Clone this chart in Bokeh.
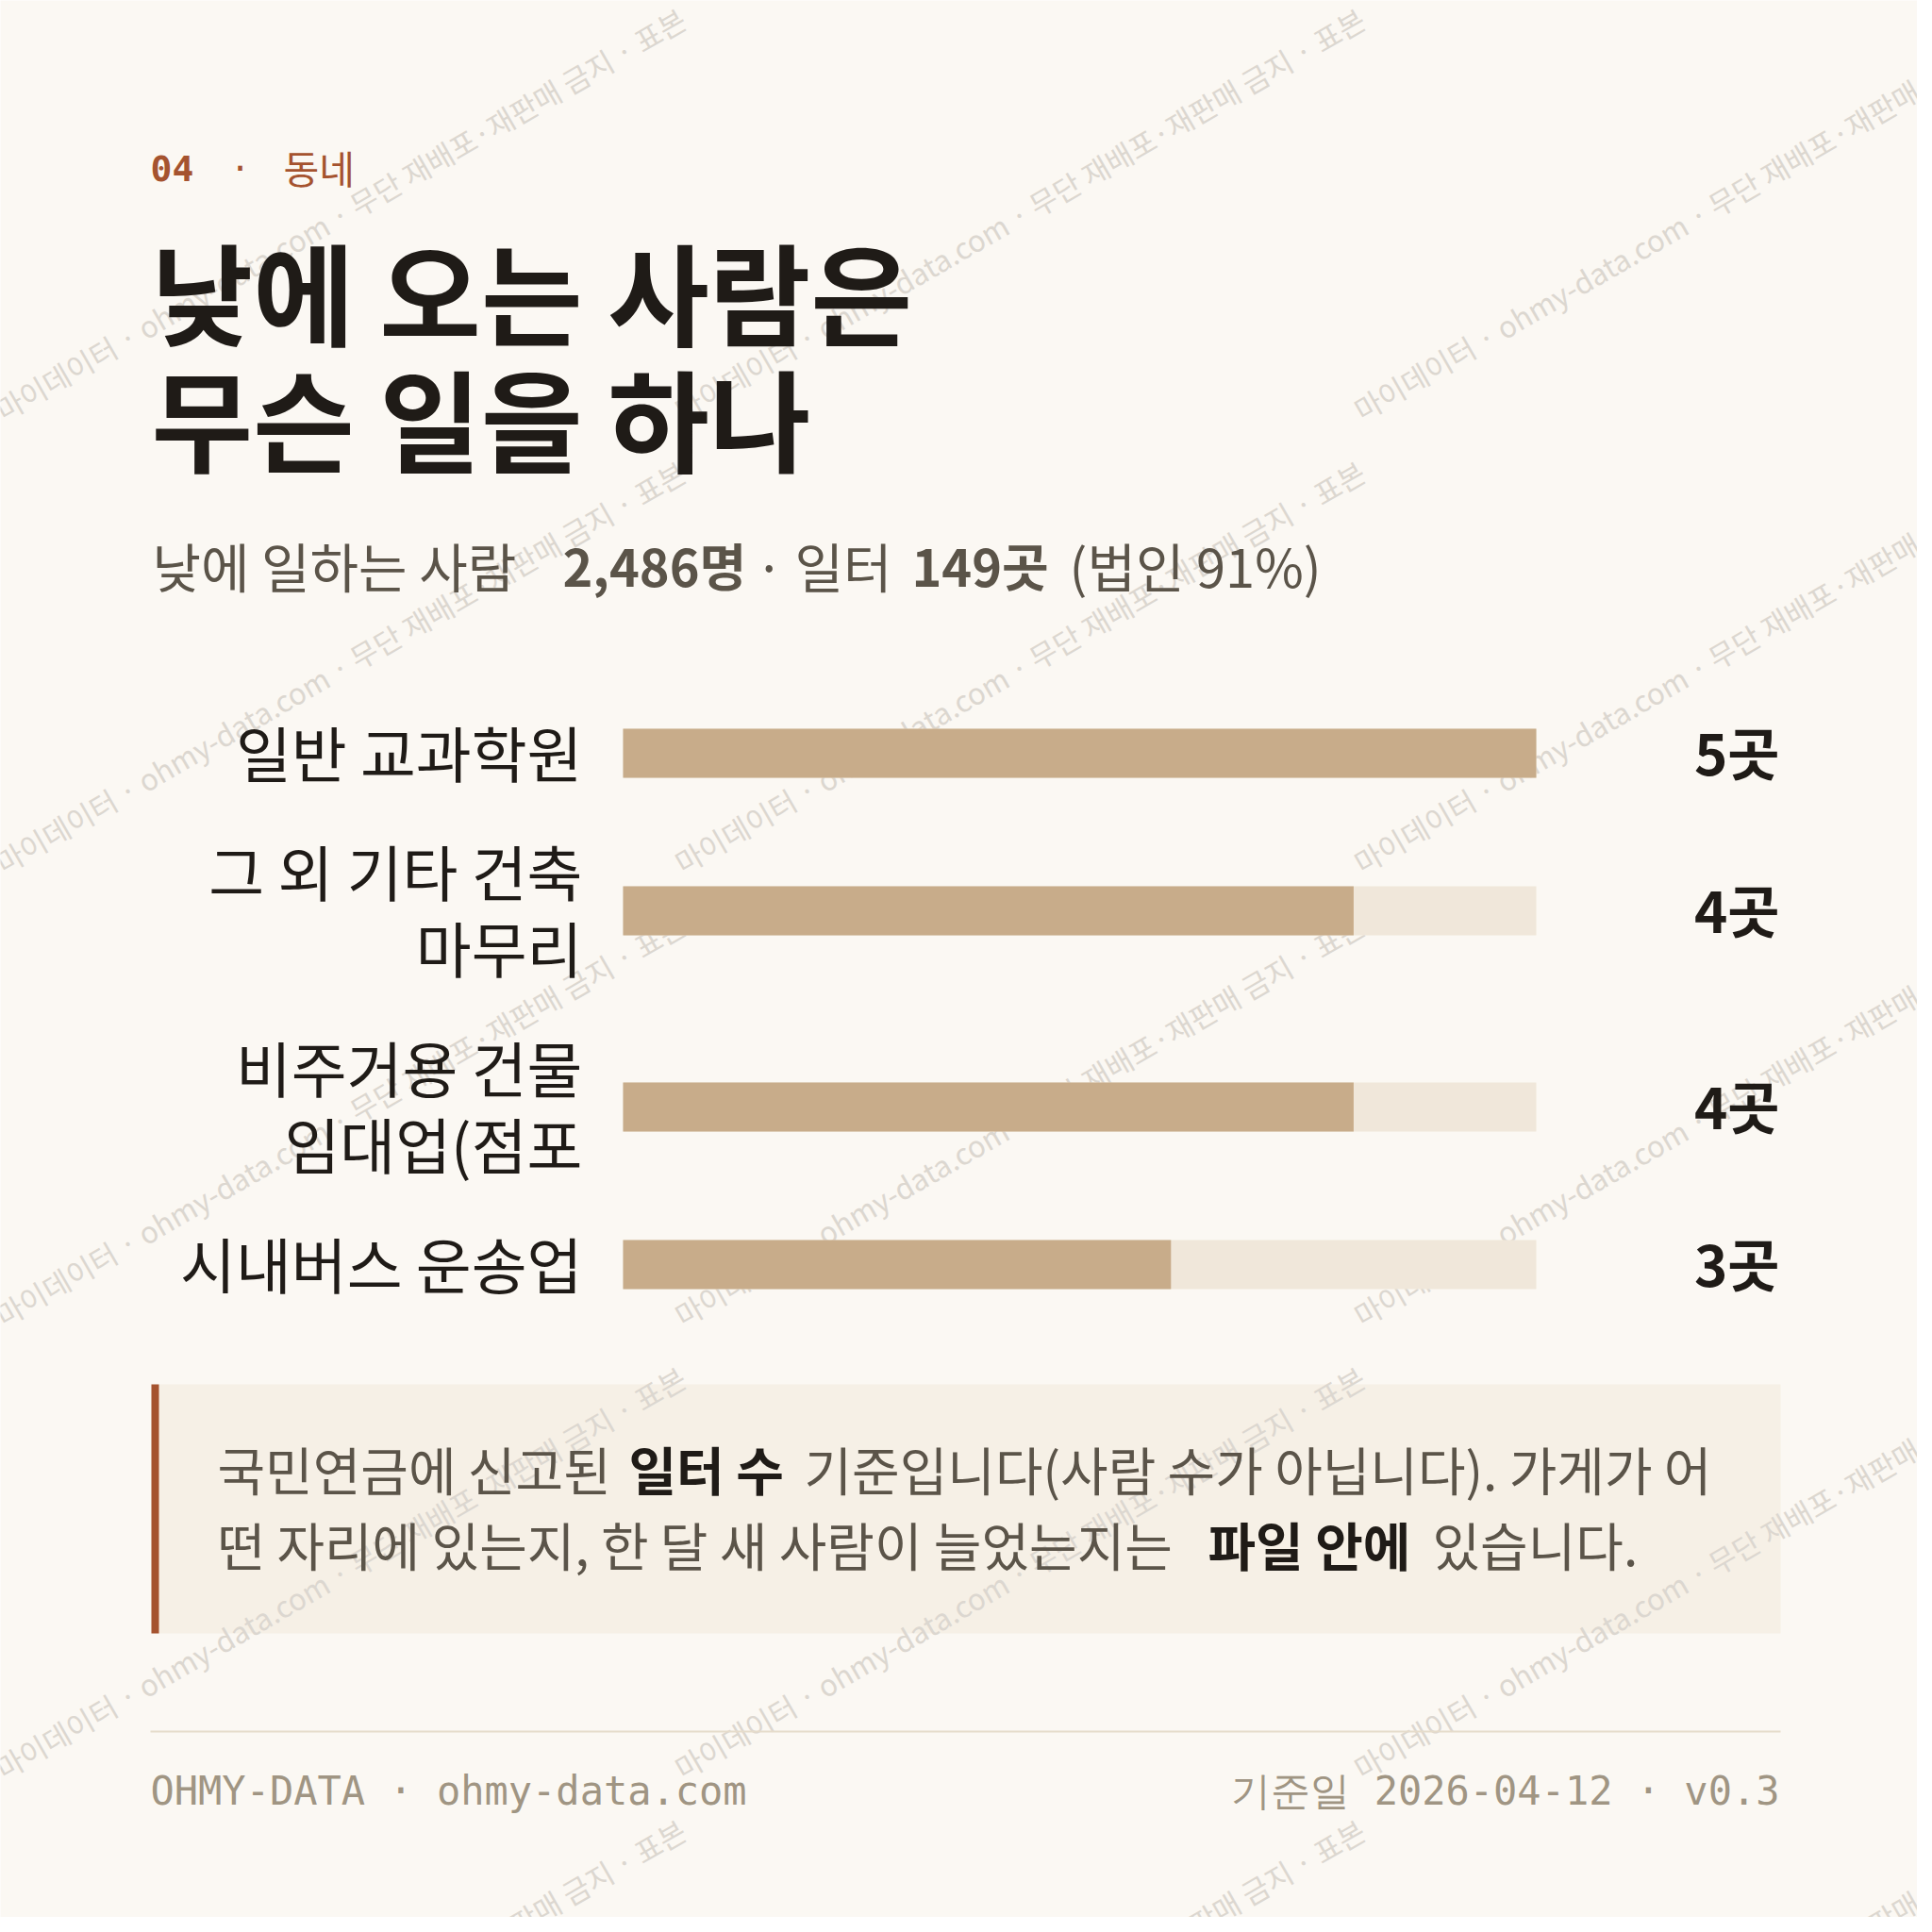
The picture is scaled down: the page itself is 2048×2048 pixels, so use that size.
import numpy as np
from bokeh.plotting import figure
from bokeh.models import Range1d, ColumnDataSource
from bokeh.core.properties import value
from bokeh.embed import file_html
from bokeh.resources import INLINE

# ---------------- data ----------------
section_no = "04"
section_name = "동네"
title_lines = ["낮에 오는 사람은", "무슨 일을 하나"]
workers = 2486
workplaces = 149
corp_share = 91
categories = ["일반 교과학원", "그 외 기타 건축 마무리", "비주거용 건물 임대업(점포", "시내버스 운송업"]
category_lines = ["일반 교과학원", "그 외 기타 건축\n마무리", "비주거용 건물\n임대업(점포", "시내버스 운송업"]
counts = [5, 4, 4, 3]
unit = "곳"
note_line1 = ["국민연금에 신고된 ", "일터 수", " 기준입니다(사람 수가 아닙니다). 가게가 어"]
note_line2 = ["떤 자리에 있는지, 한 달 새 사람이 늘었는지는 ", "파일 안에", " 있습니다."]
footer_left = "OHMY-DATA · ohmy-data.com"
footer_right = "기준일 2026-04-12 · v0.3"
watermark = "마이데이터 · ohmy-data.com · 무단 재배포·재판매 금지 · 표본"

# ---------------- style ----------------
BG = "#fbf8f3"
INK = "#1f1b17"
SUB = "#5b5449"
RUST = "#a5532f"
BAR = "#c8ac8a"
TRACK = "#f0e7da"
NOTE_BG = "#f6f0e6"
FOOT = "#a09583"
WM = "#dcd7d0"
KR = "Noto Sans CJK KR"
MONO = "DejaVu Sans Mono"

W = 2032
p = figure(width=W, height=W, x_range=Range1d(0, W), y_range=Range1d(W, 0),
           output_backend="svg", toolbar_location=None, min_border=0,
           background_fill_color=BG, border_fill_color=BG, outline_line_color=None)
p.axis.visible = False
p.grid.visible = False

# note box background (under the watermark)
p.quad(left=[160], right=[1887], top=[1467], bottom=[1731], fill_color=NOTE_BG, line_color=None)

# watermark tiles
wx, wy = [], []
for i in range(3):
    for j in range(5):
        wx.append(360 + 720 * i)
        wy.append(226 + 480 * j)
p.text(x=wx, y=wy, text=[watermark] * len(wx), angle=np.pi / 6, text_align="center",
       text_baseline="middle", text_font=value(KR), text_font_size="31px", text_color=WM)

p.quad(left=[160], right=[168], top=[1467], bottom=[1731], fill_color=RUST, line_color=None)

# section header
p.text(x=[159], y=[178], text=[section_no], text_font=value(MONO), text_font_style="bold",
       text_font_size="38px", text_color=RUST, text_baseline="middle")
p.text(x=[254], y=[178], text=["·"], text_font=value(MONO), text_font_size="36px",
       text_color=RUST, text_baseline="middle", text_align="center")
p.text(x=[300], y=[176], text=[section_name], text_font=value(KR), text_font_size="41px",
       text_color=RUST, text_baseline="middle")

# title
p.text(x=[160, 160], y=[306, 440], text=title_lines, text_font=value(KR), text_font_style="bold",
       text_font_size="117px", text_color=INK, text_baseline="middle")

# subtitle
sub_parts = [("낮에 일하는 사람", "normal", 161, "left", 56), (f"{workers:,}명", "bold", 596, "left", 54),
             ("·", "normal", 815, "center", 56), ("일터", "normal", 842, "left", 56),
             (f"{workplaces}{unit}", "bold", 966, "left", 54),
             (f"(법인 {corp_share}%)", "normal", 1133, "left", 56)]
for t, st, x, al, fs in sub_parts:
    p.text(x=[x], y=[598], text=[t], text_font=value(KR), text_font_style=st, text_align=al,
           text_font_size=f"{fs}px", text_color=SUB, text_baseline="middle")

# bar rows
LH = 82
GAP = 44
top = 757
centers = []
for lab in category_lines:
    h = LH * (lab.count("\n") + 1)
    centers.append(top + h / 2)
    top += h + GAP

BAR_X0, BAR_X1 = 660, 1628
vmax = max(counts)
scale = (BAR_X1 - BAR_X0) / vmax
a = -BAR_X0 / scale
p.extra_x_ranges = {"val": Range1d(a, a + W / scale)}

src = ColumnDataSource(dict(y=centers, cnt=counts, full=[vmax] * len(counts),
                            lab=category_lines, vl=[f"{c}{unit}" for c in counts]))
p.hbar(y="y", left=0, right="full", height=52, source=src, fill_color=TRACK,
       line_color=None, x_range_name="val")
p.hbar(y="y", left=0, right="cnt", height=52, source=src, fill_color=BAR,
       line_color=None, x_range_name="val")
src.data["ly"] = [c - 3 for c in centers]
p.text(x=617, y="ly", text="lab", source=src, text_align="right", text_baseline="middle",
       text_font=value(KR), text_font_size="64px", text_color=INK, text_line_height=0.88)
p.text(x=1886, y="ly", text="vl", source=src, text_align="right", text_baseline="middle",
       text_font=value(KR), text_font_style="bold", text_font_size="60px", text_color=INK)

# note text
for parts, xs, y in [(note_line1, [230, 666, 852], 1555), (note_line2, [230, 1280, 1518], 1635)]:
    for k, (t, x) in enumerate(zip(parts, xs)):
        bold = k == 1
        p.text(x=[x], y=[y], text=[t.strip()], text_font=value(KR),
               text_font_style="bold" if bold else "normal", text_font_size="55px",
               text_color=INK if bold else SUB, text_baseline="middle")

# footer
p.segment(x0=[159], x1=[1887], y0=[1835], y1=[1835], line_color="#e6dccb", line_width=2)
p.text(x=[159], y=[1898], text=[footer_left], text_font=value(MONO), text_font_size="42px",
       text_color=FOOT, text_baseline="middle")
p.text(x=[1886], y=[1898], text=[footer_right], text_font=value(MONO), text_font_size="42px",
       text_color=FOOT, text_baseline="middle", text_align="right")

open("out.html", "w").write(file_html(p, INLINE))
